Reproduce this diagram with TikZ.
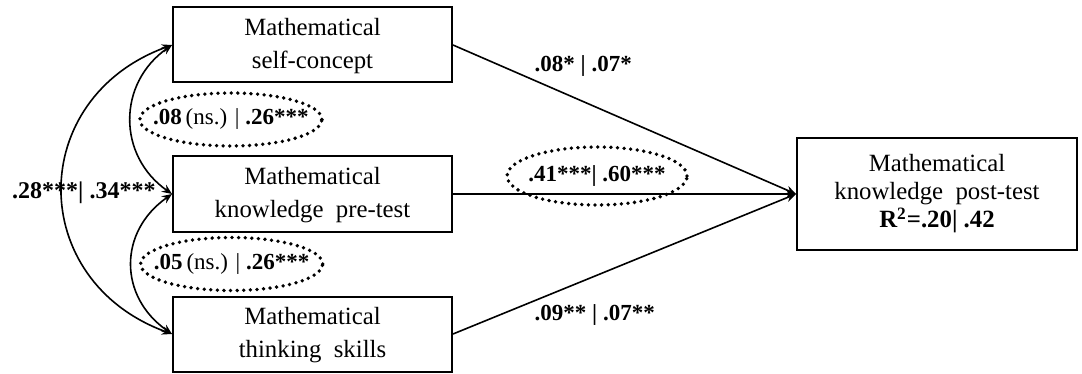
\documentclass[tikz,border=0pt]{standalone}
\usepackage{fontspec}
\setmainfont{Liberation Serif}
\usepackage{tikz}
\usetikzlibrary{arrows.meta,positioning,shapes.geometric}
\tikzset{
    varbox/.style={
           rectangle,
           draw=black, line width=1pt,
           minimum width=139.5pt,
           minimum height=37.5pt,
           inner sep=2pt,
           text centered,
           },
    coef/.style={
           font=\fontsize{11.5}{14}\selectfont\bfseries,
           inner sep=1pt,
           },
    dotring/.style={
           ellipse,
           draw=black, line width=1.9pt,
           line cap=round, dash pattern=on 0pt off 3.3pt,
           inner xsep=-20pt, inner ysep=-6pt,
           font=\fontsize{11.5}{14}\selectfont,
           },
}

\begin{document}
\begin{tikzpicture}[->,>={Stealth[length=5pt,width=4.2pt]},x=0.5pt,y=-0.5pt,
    font=\fontsize{12.4}{16.5}\selectfont]
        \useasboundingbox (0,0) rectangle (1082,374);

        % Predictor: self-concept
        % tabular for the two lines of the box
        \node[varbox] (MK_SELF) at (312.5,45)
        {
            \begin{tabular}{c}
            Mathematical\\
            self-concept
            \end{tabular}
        };

        % Predictor: pre-test
        \node[varbox,
            below of=MK_SELF,
            node distance=74.5pt,
            anchor=center] (MK_PRE)
        {
            \begin{tabular}{c}
            Mathematical\\
            knowledge\ \ pre-test
            \end{tabular}
        };

        % Predictor: thinking skills
        \node[varbox,
            below of=MK_PRE,
            node distance=70pt,
            anchor=center] (MK_THINK)
        {
            \begin{tabular}{c}
            Mathematical\\
            thinking\ \ skills
            \end{tabular}
        };

        % Outcome: post-test
        \node[varbox,
            minimum width=140pt,
            minimum height=55.5pt,
            font=\fontsize{12.4}{14}\selectfont,
            right of=MK_PRE,
            node distance=312.25pt,
            anchor=center] (MK_POST)
        {
            \begin{tabular}{c}
            Mathematical\\
            knowledge\ \ post-test\\
            \textbf{R\textsuperscript{2}=.20| .42}
            \end{tabular}
        };

        % correlations between the predictors
        \path[<->, line width=0.8pt]
            (MK_SELF.west)  edge[out=200,in=160,looseness=1.38]
                            node[coef,font=\fontsize{12}{14}\selectfont\bfseries,
                                 midway,xshift=10.75pt,yshift=-1.5pt] (C_OUTER) {.28***| .34***} (MK_THINK.west)
            (MK_SELF.west)  edge[out=215,in=145,looseness=1.15]
                            node[dotring,midway,anchor=west,xshift=3.5pt,
                                 minimum width=91pt,minimum height=26.5pt] (C_UPPER)
                            {\textbf{.08}\,(ns.) | \textbf{.26***}} (MK_PRE.west)
            (MK_PRE.west)   edge[out=215,in=145,looseness=1.2]
                            node[dotring,midway,anchor=west,xshift=3.5pt,
                                 minimum width=91pt,minimum height=26.5pt] (C_LOWER)
                            {\textbf{.05}\,(ns.) | \textbf{.26***}} (MK_THINK.west)
            ;

        % paths to the post-test
        \path[->, line width=0.8pt]
            (MK_SELF.east)  edge node[coef,pos=0.23,anchor=south west] (P_SELF) {.08* | .07*} (MK_POST.west)
            (MK_PRE.east)   edge node[dotring,pos=0.42,yshift=9pt,
                                      minimum width=90pt,minimum height=29pt] (P_PRE)
                                 {\textbf{.41***| .60***}} (MK_POST.west)
            (MK_THINK.east) edge node[coef,pos=0.23,anchor=north west] (P_THINK) {.09** | .07**} (MK_POST.west)
            ;

\end{tikzpicture}
\end{document}
